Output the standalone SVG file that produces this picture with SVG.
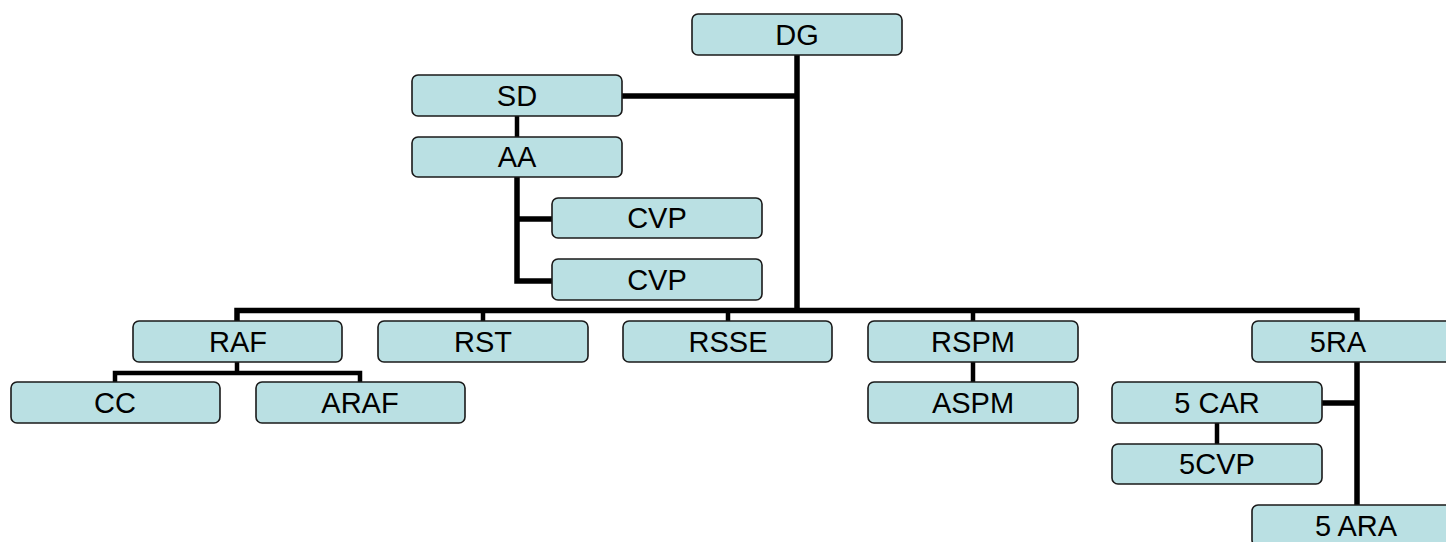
<svg xmlns="http://www.w3.org/2000/svg" width="1446" height="542" viewBox="0 0 1446 542">
<style>
.box{fill:#BAE0E3;stroke:#1a1a1a;stroke-width:1.6}
.lbl{font-family:"Liberation Sans",Arial,sans-serif;font-size:29px;fill:#000;text-anchor:middle}
.c{fill:none;stroke:#000;stroke-width:5.5;stroke-linecap:butt;stroke-linejoin:miter}
.t{fill:none;stroke:#000;stroke-width:4.5}
</style>
<rect width="1446" height="542" fill="#fff"/>
<g id="connectors">
<path class="c" d="M797 55 V313"/>
<path class="c" d="M622 96 H797"/>
<path class="t" d="M517 116 V137"/>
<path class="c" d="M517 177 V281 H552 M517 219 H552"/>
<path class="c" d="M237 321 V310.5 H1357 V321"/>
<path class="t" d="M483 310 V321 M728 310 V321 M973 310 V321"/>
<path class="t" d="M237 362 V373 M115 382 V373 H360 V382"/>
<path class="t" d="M973 362 V382"/>
<path class="c" d="M1357 362 V505 M1322 403 H1357"/>
<path class="t" d="M1217 423 V444"/>
</g>
<g id="n-DG"><rect class="box" x="692" y="14" width="210" height="41" rx="6"/><text class="lbl" x="797" y="45">DG</text></g>
<g id="n-SD"><rect class="box" x="412" y="75" width="210" height="41" rx="6"/><text class="lbl" x="517" y="106">SD</text></g>
<g id="n-AA"><rect class="box" x="412" y="137" width="210" height="40" rx="6"/><text class="lbl" x="517" y="167">AA</text></g>
<g id="n-CVP1"><rect class="box" x="552" y="198" width="210" height="40" rx="6"/><text class="lbl" x="657" y="228">CVP</text></g>
<g id="n-CVP2"><rect class="box" x="552" y="259" width="210" height="41" rx="6"/><text class="lbl" x="657" y="290">CVP</text></g>
<g id="n-RAF"><rect class="box" x="133" y="321" width="209" height="41" rx="6"/><text class="lbl" x="238" y="352">RAF</text></g>
<g id="n-RST"><rect class="box" x="378" y="321" width="210" height="41" rx="6"/><text class="lbl" x="483" y="352">RST</text></g>
<g id="n-RSSE"><rect class="box" x="623" y="321" width="209" height="41" rx="6"/><text class="lbl" x="728" y="352">RSSE</text></g>
<g id="n-RSPM"><rect class="box" x="868" y="321" width="210" height="41" rx="6"/><text class="lbl" x="973" y="352">RSPM</text></g>
<g id="n-5RA"><rect class="box" x="1252" y="321" width="220" height="41" rx="6"/><text class="lbl" x="1338" y="352">5RA</text></g>
<g id="n-CC"><rect class="box" x="11" y="382" width="209" height="41" rx="6"/><text class="lbl" x="115" y="413">CC</text></g>
<g id="n-ARAF"><rect class="box" x="256" y="382" width="209" height="41" rx="6"/><text class="lbl" x="360" y="413">ARAF</text></g>
<g id="n-ASPM"><rect class="box" x="868" y="382" width="210" height="41" rx="6"/><text class="lbl" x="973" y="413">ASPM</text></g>
<g id="n-5CAR"><rect class="box" x="1112" y="382" width="210" height="41" rx="6"/><text class="lbl" x="1217" y="413">5 CAR</text></g>
<g id="n-5CVP"><rect class="box" x="1112" y="444" width="210" height="40" rx="6"/><text class="lbl" x="1217" y="474">5CVP</text></g>
<g id="n-5ARA"><rect class="box" x="1252" y="505" width="220" height="41" rx="6"/><text class="lbl" x="1356" y="536">5 ARA</text></g>
</svg>
